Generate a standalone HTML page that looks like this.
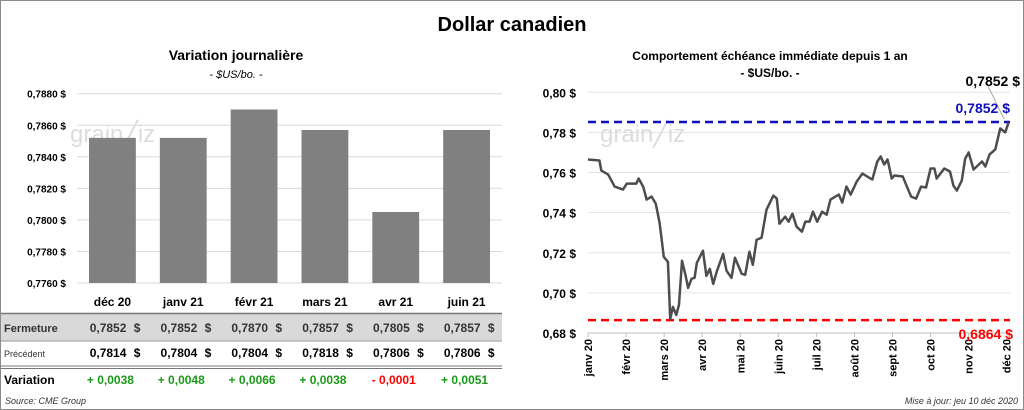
<!DOCTYPE html>
<html><head><meta charset="utf-8"><style>
body{margin:0;width:1024px;height:410px;overflow:hidden;background:#fff;font-family:"Liberation Sans",sans-serif}
#frame{position:absolute;left:0;top:0;width:1022px;height:408px;border:1px solid #8a8a8a}
</style></head><body>
<div id="frame"></div>
<svg id="svg" width="1024" height="410" style="position:absolute;left:0;top:0" font-family="Liberation Sans, sans-serif">
<text x="512" y="31" text-anchor="middle" font-size="20" font-weight="bold">Dollar canadien</text>
<text x="236" y="60" text-anchor="middle" font-size="14" font-weight="bold">Variation  journalière</text>
<text x="236" y="78" text-anchor="middle" font-size="11" font-style="italic">- $US/bo. -</text>
<text x="770" y="60" text-anchor="middle" font-size="12" font-weight="bold">Comportement échéance immédiate depuis 1 an</text>
<text x="770" y="77" text-anchor="middle" font-size="12" font-weight="bold">- $US/bo. -</text>
<g id="left"></g>
<g id="table"></g>
<g id="right"></g>
<text x="5" y="404" font-size="9" font-style="italic" fill="#333">Source: CME Group</text>
<text x="1018" y="404" text-anchor="end" font-size="9" font-style="italic" fill="#333">Mise à jour: jeu 10 déc 2020</text>
</svg>
<script>
const NS="http://www.w3.org/2000/svg";
function mk(p,t,a,txt){const e=document.createElementNS(NS,t);for(const k in a)e.setAttribute(k,a[k]);if(txt!==undefined)e.textContent=txt;p.appendChild(e);return e;}

// ---- bar chart data
const barCats=["déc 20","janv 21","févr 21","mars 21","avr 21","juin 21"];
const barClose=[0.7852,0.7852,0.7870,0.7857,0.7805,0.7857];
const barPrev=[0.7814,0.7804,0.7804,0.7818,0.7806,0.7806];
const barVar=["+ 0,0038","+ 0,0048","+ 0,0066","+ 0,0038","- 0,0001","+ 0,0051"];
const barTicks=[0.7760,0.7780,0.7800,0.7820,0.7840,0.7860,0.7880];

const L=document.getElementById('left');
const lx0=77,lx1=502,ly0=283,ly1=93.7,lmin=0.776,lmax=0.788;
const ly=v=>ly0+(v-lmin)/(lmax-lmin)*(ly1-ly0);
const bw=(lx1-lx0)/barCats.length;
barTicks.forEach(t=>{
  const g=mk(L,'line',{x1:lx0,x2:lx1,y1:ly(t),y2:ly(t),stroke:'#d9d9d9','stroke-width':1});
  
  const tx=mk(L,'text',{x:66,y:ly(t)+4,'text-anchor':'end','font-size':10,'font-weight':'bold'},t.toFixed(4).replace('.',',')+' $');
  
});
const wm=mk(L,'text',{x:70,y:142,'font-size':24,fill:'#dcdcdc'},'grain\u2571iz');

barClose.forEach((v,i)=>{
  const r=mk(L,'rect',{x:lx0+i*bw+12,y:ly(v),width:bw-24,height:ly0-ly(v),fill:'#808080'});
  
});

// ---- table
const T=document.getElementById('table');
const fmt=v=>v.toFixed(4).replace('.',',');
mk(T,'rect',{x:1,y:314,width:501,height:27,fill:'#d9d9d9'});
mk(T,'line',{x1:1,x2:502,y1:313.5,y2:313.5,stroke:'#777','stroke-width':1.5});
mk(T,'line',{x1:1,x2:502,y1:341,y2:341,stroke:'#999','stroke-width':1});
mk(T,'line',{x1:1,x2:502,y1:366,y2:366,stroke:'#777','stroke-width':1});
mk(T,'line',{x1:1,x2:502,y1:368.5,y2:368.5,stroke:'#777','stroke-width':1});
let e;
e=mk(T,'text',{x:4,y:332,'font-size':11,'font-weight':'bold',fill:'#333'},'Fermeture');
e=mk(T,'text',{x:4,y:357,'font-size':9,fill:'#333'},'Précédent');
e=mk(T,'text',{x:4,y:384,'font-size':12,'font-weight':'bold'},'Variation');
barCats.forEach((c,i)=>{
  const cx=lx0+i*bw+bw/2;
  e=mk(T,'text',{x:cx,y:306,'text-anchor':'middle','font-size':12,'font-weight':'bold'},c);
  
  e=mk(T,'text',{x:cx+14,y:332,'text-anchor':'end','font-size':12,'font-weight':'bold',fill:'#333'},fmt(barClose[i]));
  
  mk(T,'text',{x:cx+28,y:332,'text-anchor':'end','font-size':12,'font-weight':'bold',fill:'#333'},'$');
  e=mk(T,'text',{x:cx+14,y:357,'text-anchor':'end','font-size':12,'font-weight':'bold'},fmt(barPrev[i]));
  
  mk(T,'text',{x:cx+28,y:357,'text-anchor':'end','font-size':12,'font-weight':'bold'},'$');
  e=mk(T,'text',{x:cx-2,y:384,'text-anchor':'middle','font-size':12,'font-weight':'bold',fill:barVar[i][0]=='-'?'#ff0000':'#1a9a1a'},barVar[i]);
  
});

// ---- line chart data (month index, value)
const months=["janv 20","févr 20","mars 20","avr 20","mai 20","juin 20","juil 20","août 20","sept 20","oct 20","nov 20","déc 20"];
const lineT=[0,0.3,0.35,0.53,0.7,0.92,1.02,1.27,1.33,1.45,1.54,1.67,1.78,1.88,1.93,1.99,2.1,2.16,2.23,2.32,2.39,2.47,2.56,2.63,2.72,2.8,2.86,3.02,3.11,3.2,3.29,3.38,3.55,3.64,3.77,3.86,4.04,4.13,4.24,4.33,4.43,4.56,4.69,4.87,4.96,5.03,5.18,5.27,5.37,5.48,5.62,5.71,5.82,5.91,6.02,6.15,6.27,6.37,6.5,6.59,6.68,6.79,6.9,7.06,7.21,7.38,7.47,7.6,7.69,7.78,7.87,7.98,8.05,8.27,8.4,8.49,8.62,8.75,8.88,9.0,9.1,9.16,9.36,9.51,9.6,9.69,9.82,9.91,10.0,10.13,10.35,10.44,10.55,10.7,10.83,10.96,11.05];
const lineV=[0.7665,0.766,0.761,0.759,0.753,0.7515,0.7545,0.7545,0.757,0.753,0.7465,0.748,0.7445,0.735,0.7275,0.718,0.7155,0.687,0.693,0.689,0.694,0.716,0.709,0.7025,0.707,0.7075,0.715,0.721,0.7085,0.712,0.7045,0.7105,0.7195,0.711,0.7075,0.7175,0.7095,0.709,0.7205,0.714,0.7265,0.7275,0.7415,0.7485,0.747,0.7345,0.738,0.7355,0.7395,0.733,0.7305,0.7355,0.7355,0.7405,0.7355,0.7405,0.739,0.7465,0.748,0.749,0.745,0.753,0.749,0.7555,0.7595,0.7575,0.7565,0.7655,0.768,0.764,0.7665,0.757,0.7585,0.758,0.752,0.748,0.747,0.753,0.7525,0.762,0.762,0.757,0.762,0.7605,0.7535,0.751,0.756,0.767,0.770,0.7615,0.7655,0.763,0.769,0.7715,0.782,0.780,0.785];
const lineTicks=[0.68,0.70,0.72,0.74,0.76,0.78,0.80];
const highVal=0.7852, lowVal=0.6864, lastVal=0.7852;

const R=document.getElementById('right');
const rx0=588,rmx=(1006.7-588)/11,ry0=333,ry1=92.3,rmin=0.68,rmax=0.80;
const rx=m=>rx0+m*rmx, ry=v=>ry0+(v-rmin)/(rmax-rmin)*(ry1-ry0);
lineTicks.forEach(t=>{
  e=mk(R,'line',{x1:rx0,x2:1010,y1:ry(t),y2:ry(t),stroke:t==rmin?'#bfbfbf':'#e3e3e3','stroke-width':1});
  
  e=mk(R,'text',{x:576,y:ry(t)+5,'text-anchor':'end','font-size':12,'font-weight':'bold'},t.toFixed(2).replace('.',',')+' $');
  
});
months.forEach((m,i)=>{
  const x=rx(i);
  mk(R,'line',{x1:x,x2:x,y1:ry0,y2:ry0+4,stroke:'#bfbfbf'});
  e=mk(R,'text',{x:0,y:0,'text-anchor':'end','font-size':11,'font-weight':'bold',transform:`translate(${x+4},${ry0+6}) rotate(-90)`},m);
  
});
e=mk(R,'text',{x:600,y:142,'font-size':24,fill:'#dcdcdc'},'grain\u2571iz');

e=mk(R,'line',{x1:rx0,x2:1010,y1:ry(highVal),y2:ry(highVal),stroke:'#1010c0','stroke-width':2.5,'stroke-dasharray':'8,5'});

e=mk(R,'line',{x1:rx0,x2:1010,y1:ry(lowVal),y2:ry(lowVal),stroke:'#ff0000','stroke-width':2.5,'stroke-dasharray':'8,5'});

e=mk(R,'polyline',{points:lineT.map((t,i)=>rx(t)+','+ry(lineV[i])).join(' '),fill:'none',stroke:'#4d4d4d','stroke-width':2.5,'stroke-linejoin':'round'});

mk(R,'line',{x1:988,y1:86,x2:1004,y2:ry(lastVal)-3,stroke:'#aaa','stroke-width':1});
e=mk(R,'text',{x:1020,y:86,'text-anchor':'end','font-size':14,'font-weight':'bold'},lastVal.toFixed(4).replace('.',',')+' $');

e=mk(R,'text',{x:1010,y:113,'text-anchor':'end','font-size':14,'font-weight':'bold',fill:'#1010c0'},highVal.toFixed(4).replace('.',',')+' $');

e=mk(R,'text',{x:1013,y:339,'text-anchor':'end','font-size':14,'font-weight':'bold',fill:'#ff0000'},lowVal.toFixed(4).replace('.',',')+' $');

</script>
</body></html>
